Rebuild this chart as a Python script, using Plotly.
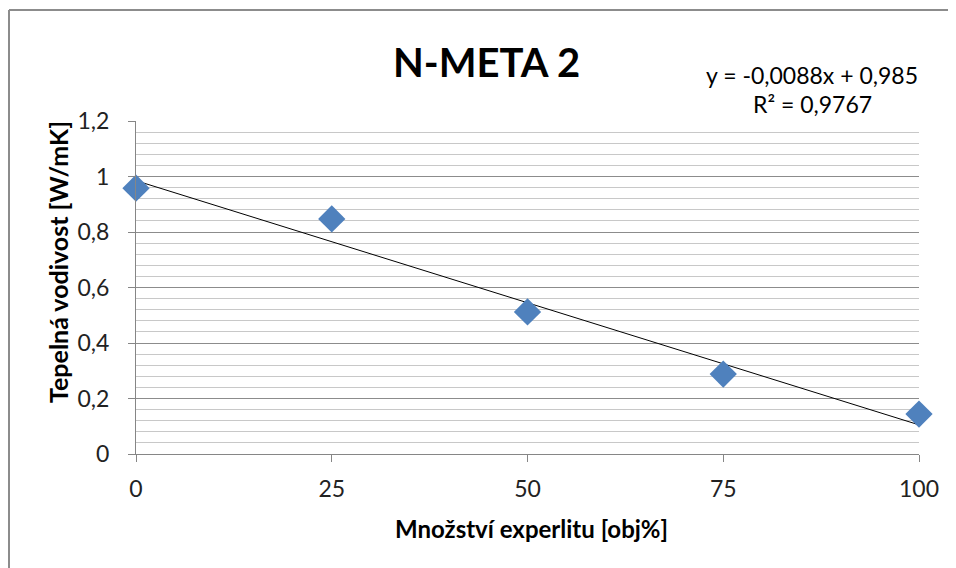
import plotly.graph_objects as go

# Data
amount = [0, 25, 50, 75, 100]               # Množství experlitu [obj%]
conductivity = [0.958, 0.847, 0.512, 0.288, 0.144]  # Tepelná vodivost [W/mK]
trend_slope = -0.0088
trend_intercept = 0.985
trend_x = [0, 100]
trend_y = [trend_slope * x + trend_intercept for x in trend_x]

x_ticks = [0, 25, 50, 75, 100]
y_ticks = [0, 0.2, 0.4, 0.6, 0.8, 1.0, 1.2]

FONT = "Lato, 'Open Sans', sans-serif"

fig = go.Figure()
fig.add_trace(go.Scatter(
    x=trend_x, y=trend_y, mode="lines",
    line=dict(color="black", width=1), showlegend=False, hoverinfo="skip"))
fig.add_trace(go.Scatter(
    x=amount, y=conductivity, mode="markers",
    marker=dict(symbol="diamond", size=21, color="#4F81BD"),
    showlegend=False, cliponaxis=False))

W, H = 956, 568
OFF = 8  # default body margin of the page
# plot area in page coords: x 136..919, y 121..454
PX0, PX1, PY0, PY1 = 136, 919, 121, 454
L, T = PX0 - OFF, PY0 - OFF
pw, ph = PX1 - PX0, PY1 - PY0
R, B = W - L - pw, H - T - ph

def px(xp):
    return (xp - PX0) / pw

def py(yp):
    return (PY1 - yp) / ph

RIGHT_EDGE = OFF + W - 1
BOTTOM_EDGE = OFF + H - 1

fig.update_layout(
    width=W, height=H,
    margin=dict(l=L, r=R, t=T, b=B),
    paper_bgcolor="white", plot_bgcolor="white",
    separators=", ",
    font=dict(family=FONT, color="#000000", size=23),
    xaxis=dict(
        range=[0, 100], tickvals=x_ticks, showgrid=False, zeroline=False,
        showline=True, linecolor="#868686", linewidth=1,
        ticks="outside", ticklen=7, tickcolor="#868686",
        ticklabelstandoff=7,
        tickfont=dict(size=23, color="#222222"),
    ),
    yaxis=dict(
        range=[0, 1.2], tickvals=y_ticks, showgrid=True, gridcolor="#8c8c8c", gridwidth=1,
        zeroline=False, showline=True, linecolor="#868686", linewidth=1,
        ticks="outside", ticklen=7, tickcolor="#868686",
        ticklabelstandoff=14,
        tickfont=dict(size=23, color="#222222"),
        minor=dict(dtick=0.04, showgrid=True, gridcolor="#c8c8c8", gridwidth=1, ticks=""),
    ),
    shapes=[
        dict(type="line", xref="paper", yref="paper",
             x0=px(9), x1=px(9), y0=py(BOTTOM_EDGE), y1=py(10),
             line=dict(color="#8c8c8c", width=2), layer="below"),
        dict(type="line", xref="paper", yref="paper",
             x0=px(9), x1=px(RIGHT_EDGE), y0=py(10), y1=py(10),
             line=dict(color="#8c8c8c", width=2), layer="below"),
    ],
    annotations=[
        dict(text="<b>N-META 2</b>", xref="paper", yref="paper",
             x=px(486), y=py(62), showarrow=False, font=dict(size=40),
             xanchor="center", yanchor="middle"),
        dict(text="y = -0,0088x + 0,985", xref="paper", yref="paper",
             x=px(812), y=py(75), showarrow=False, font=dict(size=23),
             xanchor="center", yanchor="middle"),
        dict(text="R² = 0,9767", xref="paper", yref="paper",
             x=px(812), y=py(104), showarrow=False, font=dict(size=23),
             xanchor="center", yanchor="middle"),
        dict(text="<b>Tepelná vodivost [W/mK]</b>", xref="paper", yref="paper",
             x=px(58), y=py(262), showarrow=False, font=dict(size=25),
             textangle=-90, xanchor="center", yanchor="middle"),
        dict(text="<b>Množství experlitu [obj%]</b>", xref="paper", yref="paper",
             x=px(531), y=py(528), showarrow=False, font=dict(size=24),
             xanchor="center", yanchor="middle"),
    ],
)

fig.write_html("out.html")
